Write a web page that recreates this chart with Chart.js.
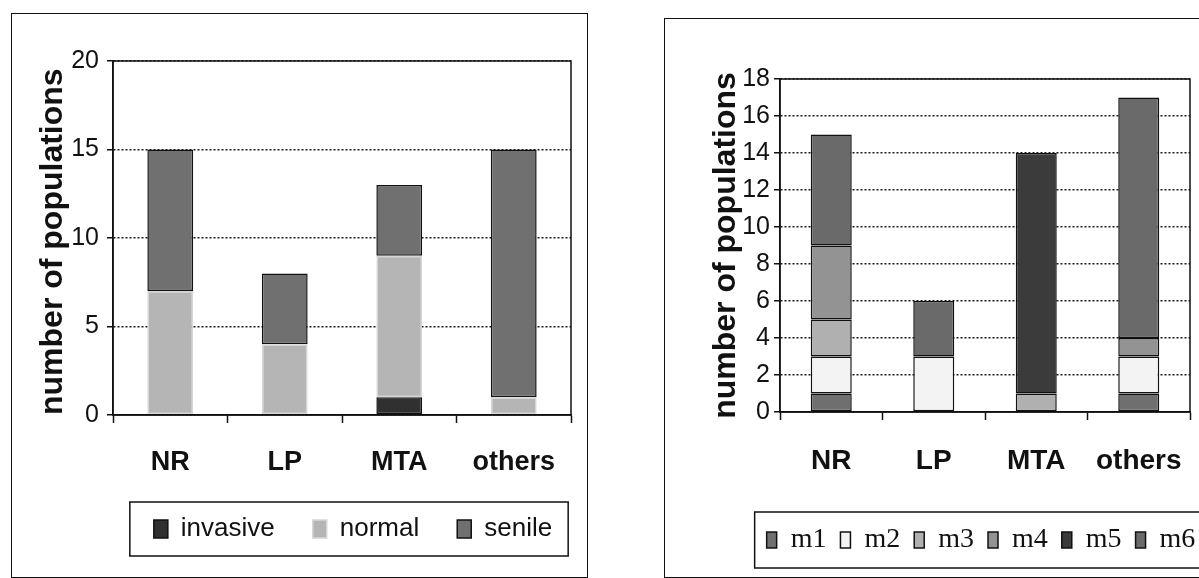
<!DOCTYPE html>
<html>
<head>
<meta charset="utf-8">
<script src="https://cdn.jsdelivr.net/npm/chart.js@4.4.1/dist/chart.umd.min.js"></script>
<style>
  html, body { margin: 0; padding: 0; background: #fff; }
  body { width: 1199px; height: 578px; position: relative; overflow: hidden; }
  .frame { position: absolute; border: 1.5px solid #111; box-sizing: border-box; }
  canvas { position: absolute; top: 0; }
</style>
</head>
<body>
<div class="frame" style="left:11px; top:13px; width:577px; height:565px;"></div>
<div class="frame" style="left:664px; top:18px; width:560px; height:560px;"></div>
<canvas id="stageChart" width="700" height="578" style="left:0px;"></canvas>
<canvas id="typeChart" width="700" height="578" style="left:600px;"></canvas>
<script>
// ---- data ----
const categories = ['NR', 'LP', 'MTA', 'others'];

// population stage per region
const invasive = [0, 0, 1, 0];
const normal   = [7, 4, 8, 1];
const senile   = [8, 4, 4, 14];
const stageTicks = [0, 5, 10, 15, 20];

// population type per region
const m1 = [1, 0, 0, 1];
const m2 = [2, 3, 0, 2];
const m3 = [2, 0, 1, 0];
const m4 = [4, 0, 0, 1];
const m5 = [0, 0, 13, 0];
const m6 = [6, 3, 0, 13];
const typeTicks = [0, 2, 4, 6, 8, 10, 12, 14, 16, 18];

const INK = '#111';
Chart.defaults.font.family = "'Liberation Sans', Arial, sans-serif";
Chart.defaults.color = INK;

// box around the plot area and around the legend items
const framePlugin = {
  id: 'plotFrame',
  afterDatasetsDraw(chart) {
    const { ctx, chartArea: a } = chart;
    ctx.save();
    ctx.strokeStyle = INK;
    ctx.lineWidth = 1.5;
    ctx.strokeRect(a.left, a.top, a.right - a.left, a.bottom - a.top);
    ctx.restore();
  },
  afterDraw(chart, args, opts) {
    const hb = chart.legend && chart.legend.legendHitBoxes;
    if (!hb || !hb.length) return;
    const l = Math.min(...hb.map(b => b.left));
    const r = Math.max(...hb.map(b => b.left + b.width));
    const t = Math.min(...hb.map(b => b.top));
    const b = Math.max(...hb.map(b => b.top + b.height));
    const { ctx } = chart;
    ctx.save();
    ctx.strokeStyle = INK;
    ctx.lineWidth = 1.5;
    ctx.strokeRect(l - opts.padLeft, t - opts.padY, (r - l) + opts.padLeft + opts.padRight, (b - t) + 2 * opts.padY);
    ctx.restore();
  }
};

function seg(label, data, fill, edge) {
  return {
    label, data,
    backgroundColor: fill,
    borderColor: edge || INK,
    borderWidth: 1.5,
    borderSkipped: false,
    categoryPercentage: 1,
    barPercentage: 0.4
  };
}

function xScale(fontSize, pad, height) {
  return {
    stacked: true,
    grid: { display: true, drawOnChartArea: false, offset: true, tickLength: 8, tickColor: INK, tickWidth: 1.5 },
    border: { display: true, color: INK, width: 1.5 },
    ticks: { font: { size: fontSize, weight: 'bold' }, color: INK, padding: pad, maxRotation: 0, autoSkip: false },
    afterFit(s) { s.height = height; }
  };
}

function yScale(ticks, pad, width, titleAlign, titlePad) {
  return {
    stacked: true,
    min: ticks[0],
    max: ticks[ticks.length - 1],
    ticks: { stepSize: ticks[1] - ticks[0], autoSkip: false, font: { size: 25 }, color: INK, padding: pad },
    grid: { color: '#1a1a1a', lineWidth: 1.5, tickLength: 6, tickColor: INK, tickWidth: 1.5, tickBorderDash: [] },
    border: { display: true, color: INK, width: 1.5, dash: [2, 2] },
    title: {
      display: true, text: 'number of populations', color: INK,
      font: { size: 32, weight: 'bold' }, align: titleAlign, padding: { top: titlePad, bottom: 0 }
    },
    afterFit(s) { s.width = width; }
  };
}

// empty right-hand margin so the legend row can run wider than the plot
function rightMargin(width) {
  return {
    position: 'right',
    display: true,
    ticks: { display: false },
    grid: { display: false },
    border: { display: false },
    afterFit(s) { s.width = width; }
  };
}

new Chart(document.getElementById('stageChart'), {
  type: 'bar',
  data: {
    labels: categories,
    datasets: [
      seg('invasive', invasive, '#303030'),
      seg('normal', normal, '#b5b5b5', '#d6d6d6'),
      seg('senile', senile, '#707070')
    ]
  },
  options: {
    responsive: false,
    animation: false,
    events: [],
    layout: { padding: { left: 13, top: 61, right: 7, bottom: 26 } },
    scales: {
      x: xScale(27, 23, 63),
      y: yScale(stageTicks, 8, 100, 'start', 21),
      margin: rightMargin(122)
    },
    plugins: {
      tooltip: { enabled: false },
      legend: {
        position: 'bottom', align: 'center',
        labels: { font: { size: 26 }, color: INK, boxWidth: 14, boxHeight: 18, padding: 38 }
      },
      plotFrame: { padLeft: 24, padRight: 16, padY: 14 }
    }
  },
  plugins: [framePlugin]
});

new Chart(document.getElementById('typeChart'), {
  type: 'bar',
  data: {
    labels: categories,
    datasets: [
      seg('m1', m1, '#6f6f6f'),
      seg('m2', m2, '#f3f3f3'),
      seg('m3', m3, '#b0b0b0'),
      seg('m4', m4, '#939393'),
      seg('m5', m5, '#3b3b3b'),
      seg('m6', m6, '#6a6a6a')
    ]
  },
  options: {
    responsive: false,
    animation: false,
    events: [],
    layout: { padding: { left: 62, top: 79, right: 0, bottom: 14 } },
    scales: {
      x: xScale(28, 24, 100),
      y: yScale(typeTicks, 4, 118, 'center', 45),
      margin: rightMargin(110)
    },
    plugins: {
      tooltip: { enabled: false },
      legend: {
        position: 'bottom', align: 'center',
        labels: {
          font: { size: 28, family: "'Liberation Serif', 'Times New Roman', serif" },
          color: INK, boxWidth: 10, boxHeight: 16, padding: 14
        }
      },
      plotFrame: { padLeft: 12, padRight: 40, padY: 14 }
    }
  },
  plugins: [framePlugin]
});
</script>
</body>
</html>
